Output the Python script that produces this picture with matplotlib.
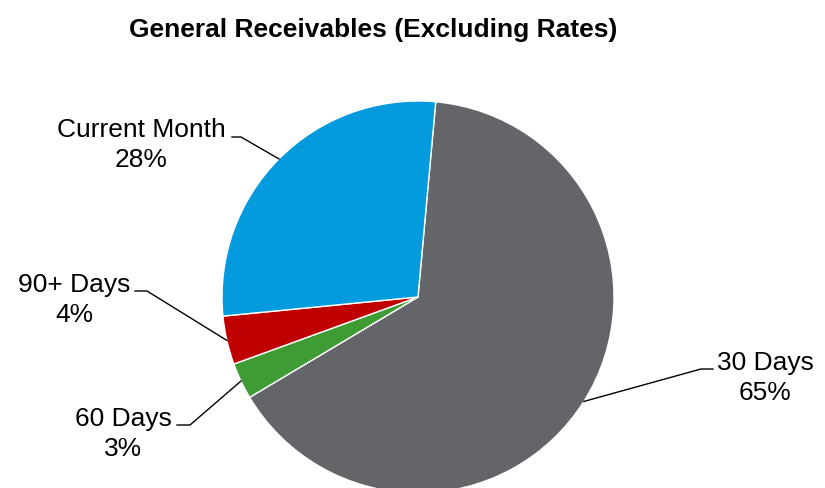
import matplotlib.pyplot as plt
import numpy as np

plt.rcParams['font.family'] = ['Liberation Sans', 'DejaVu Sans']

title = "General Receivables (Excluding Rates)"
labels = ["30 Days", "60 Days", "90+ Days", "Current Month"]
shares = [65, 3, 4, 28]
colors = ["#636569", "#3F9C35", "#C00000", "#039BDD"]

# layout in pixels: pie centre/radius, label anchor (centre x, first baseline y),
# and the elbow where each leader line turns horizontal
W, H = 825, 489
cx, cy, R = 418, 298, 196
label_pos = [(765, 370), (123, 426), (74, 292), (141, 137)]
elbow = [(701, 370), (190, 426), (147, 292), (241, 138)]
elbow_end = [(713, 370), (177, 426), (135, 292), (232, 138)]


def to_data(x, y):
    return (x - cx) / R, (cy - y) / R


fig = plt.figure(figsize=(W / 100, H / 100), dpi=100)
ax = fig.add_axes([0, 0, 1, 1])

wedges, _ = ax.pie(shares, colors=colors, startangle=84.8, counterclock=False,
                   radius=1, center=(0, 0),
                   wedgeprops=dict(edgecolor="white", linewidth=1.0))

ax.set_xlim(-cx / R, (W - cx) / R)
ax.set_ylim(-(H - cy) / R, cy / R)
ax.set_aspect("equal")
ax.axis("off")

for w, name, val, lp, el, ee in zip(wedges, labels, shares, label_pos, elbow, elbow_end):
    mid = np.deg2rad((w.theta1 + w.theta2) / 2)
    p0 = (np.cos(mid), np.sin(mid))
    p1 = to_data(*el)
    p2 = to_data(*ee)
    ax.plot([p0[0], p1[0], p2[0]], [p0[1], p1[1], p2[1]], color="black", lw=1.0)
    tx, ty = to_data(*lp)
    ax.text(tx, ty, name, ha="center", va="baseline", fontsize=19)
    tx2, ty2 = to_data(lp[0], lp[1] + 30)
    ax.text(tx2, ty2, f"{val}%", ha="center", va="baseline", fontsize=19)

fig.text(373 / W, 1 - 37 / H, title, ha="center", va="baseline",
         fontsize=19, fontweight="bold")

fig.savefig("out.png", dpi=100)
